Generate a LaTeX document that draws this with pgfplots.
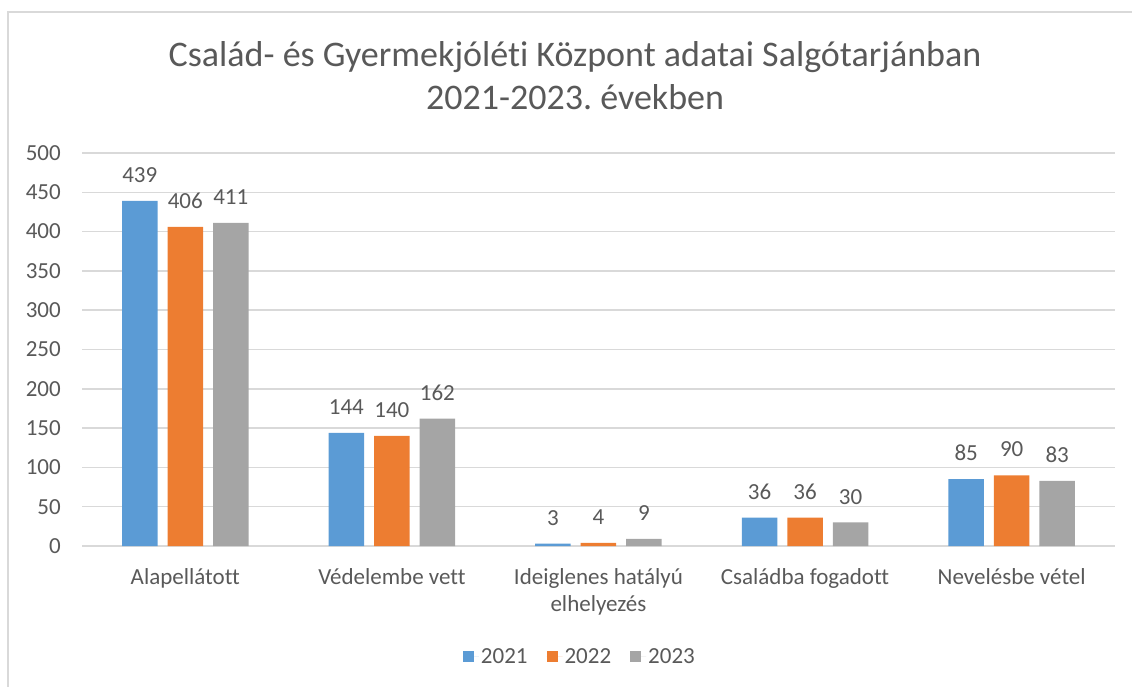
\documentclass[border=0pt]{standalone}
\usepackage{pgfplots}
\pgfplotsset{compat=1.18}
\usepackage{fontspec}
\setmainfont{Carlito}[Ligatures=NoCommon]
\definecolor{cblue}{HTML}{5B9BD5}
\definecolor{corange}{HTML}{ED7D31}
\definecolor{cgray}{HTML}{A5A5A5}
\definecolor{tgray}{HTML}{595959}
\definecolor{ggray}{HTML}{D9D9D9}
\newcommand{\lbl}{\fontsize{23}{27}\selectfont}
\frenchspacing
\begin{document}
\begin{tikzpicture}
\draw[ggray, line width=1.5pt] (8pt,-5pt) -- (8pt,674pt) -- (1140pt,674pt);
\node[anchor=base, text=tgray, font=\fontsize{36}{42}\selectfont] at (575pt,619pt) {Család- és Gyermekjóléti Központ adatai Salgótarjánban};
\node[anchor=base, text=tgray, font=\fontsize{36}{42}\selectfont] at (575pt,576pt) {2021-2023.\ években};
\begin{axis}[
  at={(82pt,140pt)}, anchor=south west,
  scale only axis, width=1033pt, height=393pt,
  xmin=-0.5, xmax=4.5, ymin=0, ymax=500,
  ytick={0,50,...,500},
  xtick={0,1,2,3,4},
  xticklabels={Alapellátott, Védelembe vett, {Ideiglenes hatályú\\elhelyezés}, Családba fogadott, Nevelésbe vétel},
  axis line style={draw=none},
  major tick length=0pt,
  ymajorgrids,
  major grid style={ggray, line width=1.5pt},
  /pgf/number format/assume math mode=true,
  yticklabel style={font=\lbl, text=tgray, inner sep=0pt, anchor=east, xshift=-21pt},
  xticklabel style={font=\lbl, text=tgray, inner sep=0pt, anchor=north, yshift=-22pt, align=center},
  ybar=10pt, bar width=35.5pt,
  nodes near coords,
  every node near coord/.append style={font=\lbl, text=tgray, inner sep=0pt, anchor=south, yshift=18pt},
  legend columns=3,
  legend style={at={(0.482,-0.2824)}, anchor=center, draw=none, font=\lbl, text=tgray,
    /tikz/every even column/.append style={column sep=17pt}},
  legend image code/.code={\path[#1, draw=none] (0pt,-5.5pt) rectangle (11pt,5.5pt); \path (0pt,0pt) -- (16pt,0pt);},
  clip=false,
]
\addplot[fill=cblue, draw=none] coordinates {(0,439) (1,144) (2,3) (3,36) (4,85)};
\addplot[fill=corange, draw=none] coordinates {(0,406) (1,140) (2,4) (3,36) (4,90)};
\addplot[fill=cgray, draw=none] coordinates {(0,411) (1,162) (2,9) (3,30) (4,83)};
\legend{2021,2022,2023}
\end{axis}
\pgfresetboundingbox
\path[use as bounding box] (0,0) rectangle (1132pt,686pt);
\end{tikzpicture}
\end{document}
